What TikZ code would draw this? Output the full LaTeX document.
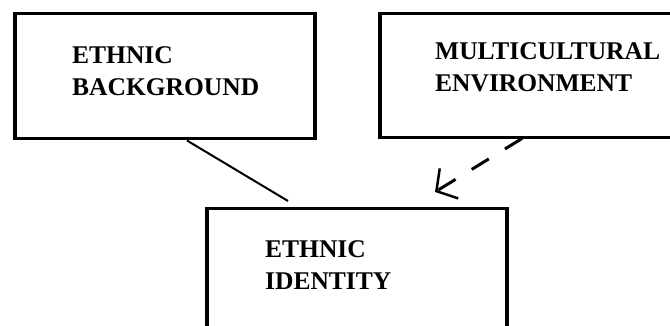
\documentclass[tikz,border=0pt]{standalone}
\usepackage{fontspec}
\setmainfont{Liberation Serif}
\usetikzlibrary{arrows.meta}
\begin{document}
\begin{tikzpicture}[x=1pt,y=-1pt,
  box/.style={draw=black,line width=3.5pt,rectangle,inner sep=0pt,anchor=north west},
  label/.style={anchor=north west,inner sep=0pt,align=left,
    font=\bfseries\fontsize{25.5}{31.5}\selectfont},
  link/.style={line width=2pt},
  influence/.style={line width=3pt,dash pattern=on 20pt off 19pt,
    -{Straight Barb[angle=100:20pt 1,line width=2.5pt]}}]
\useasboundingbox (0,0) rectangle (670,326);
\clip (0,0) rectangle (670,326);
\fill[white] (0,0) rectangle (670,326);

% three boxes
\node[box,minimum width=300pt,minimum height=125pt] (bg) at (13,12) {};
\node[box,minimum width=310pt,minimum height=124pt] (env) at (378,12) {};
\node[box,minimum width=300pt,minimum height=140pt] (id) at (205,207) {};

% box texts
\node[label] (bgtext) at (72,46.5) {ETHNIC\\BACKGROUND};
\node[label] (envtext) at (435,42.5) {MULTICULTURAL\\ENVIRONMENT};
\node[label] (idtext) at (265,240.5) {ETHNIC\\IDENTITY};

% connector end points
\coordinate (bgout) at ([xshift=174pt]bg.south west);
\coordinate (idin) at ([xshift=83pt,yshift=6pt]id.north west);
\coordinate (envout) at ([xshift=144pt,yshift=1pt]env.south west);
\coordinate (idtip) at ([xshift=230pt,yshift=15pt]id.north west);

\draw[link] (bgout) -- (idin);
\draw[influence] (envout) -- (idtip);
\end{tikzpicture}
\end{document}
